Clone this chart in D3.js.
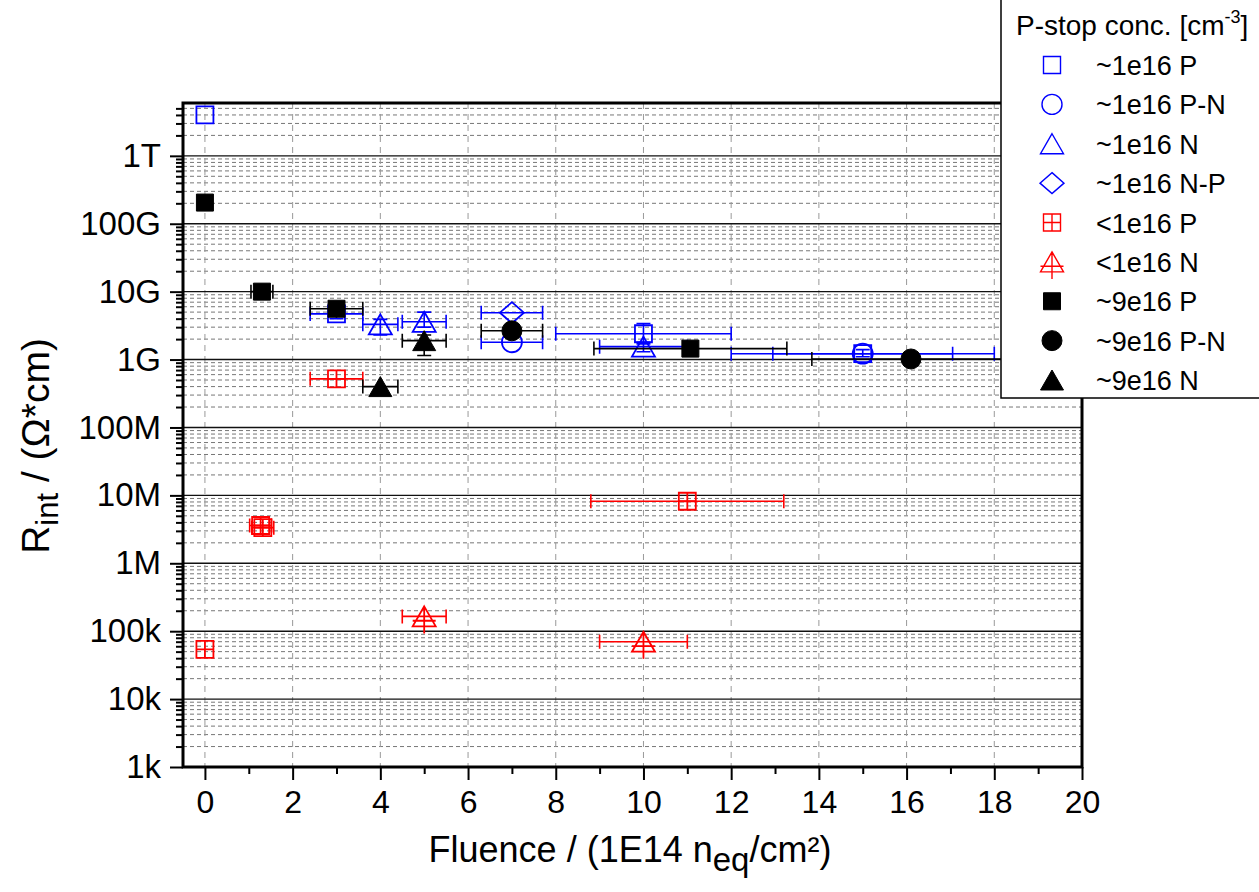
<!DOCTYPE html>
<html>
<head>
<meta charset="utf-8">
<script src="https://cdn.jsdelivr.net/npm/d3@7"></script>
<style>
  body { margin: 0; background: #fff; }
  svg { display: block; }
  text { font-family: Arial, "Liberation Sans", sans-serif; fill: #000; }
</style>
</head>
<body>
<svg id="chart" width="1259" height="892"></svg>
<script>
// legend labels, colours and marker shapes, in drawing order
const seriesNames = ["~1e16 P", "~1e16 P-N", "~1e16 N", "~1e16 N-P", "<1e16 P", "<1e16 N", "~9e16 P", "~9e16 P-N", "~9e16 N"];
const seriesColors = ["#0000ff", "#0000ff", "#0000ff", "#0000ff", "#ff0000", "#ff0000", "#000000", "#000000", "#000000"];
const seriesShapes = ["square", "circle", "triangle", "diamond", "squareCross", "triangleCross", "squareFill", "circleFill", "triangleFill"];

// points: x = fluence, y = Rint, xe = x error, ye = [low, high]
const p1e16_P  = [{x: 0, y: 4.0e12}, {x: 3, y: 4.7e9, xe: 0.6, ye: [4.0e9, 6.5e9]}, {x: 10, y: 2.4e9, xe: 2.0, ye: [1.7e9, 3.4e9]}, {x: 15, y: 1.22e9, xe: 3.0}];
const p1e16_PN = [{x: 7, y: 1.8e9, xe: 0.7}, {x: 15, y: 1.22e9, xe: 2.05, ye: [1.1e9, 1.4e9]}];
const p1e16_N  = [{x: 4, y: 3.3e9, xe: 0.4, ye: [2.3e9, 3.9e9]}, {x: 5, y: 3.6e9, xe: 0.5, ye: [3.0e9, 5.0e9]}, {x: 10, y: 1.55e9, xe: 1.0, ye: [1.3e9, 1.8e9]}];
const p1e16_NP = [{x: 7, y: 4.9e9, xe: 0.7}];
const lt1e16_P = [{x: 0, y: 5.4e4}, {x: 1.27, y: 3.6e6, xe: 0.25}, {x: 1.32, y: 3.35e6, xe: 0.25}, {x: 3, y: 5.2e8, xe: 0.6}, {x: 11, y: 8.2e6, xe: 2.2}];
const lt1e16_N = [{x: 5, y: 1.65e5, xe: 0.5}, {x: 10, y: 7.0e4, xe: 1.0}];
const p9e16_P  = [{x: 0, y: 2.05e11}, {x: 1.3, y: 1.0e10, xe: 0.25}, {x: 3, y: 5.6e9, xe: 0.6}, {x: 11.07, y: 1.45e9, xe: 2.2}];
const p9e16_PN = [{x: 7, y: 2.65e9, xe: 0.7}, {x: 16.1, y: 1.02e9, xe: 2.26}];
const p9e16_N  = [{x: 4, y: 4.0e8, xe: 0.4}, {x: 5, y: 1.9e9, xe: 0.5, ye: [1.15e9, 2.3e9]}];
const seriesData = [p1e16_P, p1e16_PN, p1e16_N, p1e16_NP, lt1e16_P, lt1e16_N, p9e16_P, p9e16_PN, p9e16_N];

// axis ticks
const xTicks = [0, 2, 4, 6, 8, 10, 12, 14, 16, 18, 20];
const yTicks = [1e3, 1e4, 1e5, 1e6, 1e7, 1e8, 1e9, 1e10, 1e11, 1e12];
const yTickLabels = ["1k", "10k", "100k", "1M", "10M", "100M", "1G", "10G", "100G", "1T"];

const svg = d3.select("#chart");

const x = d3.scaleLinear().domain([-0.5, 20]).range([183, 1082]);
const y = d3.scaleLog().domain([1e3, 6e12]).range([767, 103]);

const plotLeft = x.range()[0], plotRight = x.range()[1];
const plotTop = y.range()[1], plotBottom = y.range()[0];

// minor decade values 2..9
const yMinor = [];
yTicks.forEach(d => { for (let k = 2; k <= 9; k++) if (d * k < y.domain()[1]) yMinor.push(d * k); });
const xMinor = d3.range(0, 20, 1).filter(v => v % 2 === 1);

// grid
const grid = svg.append("g");
grid.selectAll(".ym").data(yMinor).enter().append("line")
  .attr("x1", plotLeft).attr("x2", plotRight)
  .attr("y1", d => y(d)).attr("y2", d => y(d))
  .attr("stroke", "#777").attr("stroke-width", 1).attr("stroke-dasharray", "4,3");
grid.selectAll(".xg").data(xTicks.slice(0, -1)).enter().append("line")
  .attr("x1", d => x(d)).attr("x2", d => x(d))
  .attr("y1", plotTop).attr("y2", plotBottom)
  .attr("stroke", "#999").attr("stroke-width", 1).attr("stroke-dasharray", "6,5");
grid.selectAll(".yg").data(yTicks.slice(1)).enter().append("line")
  .attr("x1", plotLeft).attr("x2", plotRight)
  .attr("y1", d => y(d)).attr("y2", d => y(d))
  .attr("stroke", "#111").attr("stroke-width", 1.4);

// axes
const xAxis = svg.append("g").attr("transform", `translate(0,${plotBottom})`)
  .call(d3.axisBottom(x).tickValues(xTicks).tickSize(13).tickPadding(10).tickFormat(d3.format("d")));
svg.append("g").attr("transform", `translate(0,${plotBottom})`)
  .call(d3.axisBottom(x).tickValues(xMinor).tickSize(7).tickFormat(""));
const yAxis = svg.append("g").attr("transform", `translate(${plotLeft},0)`)
  .call(d3.axisLeft(y).tickValues(yTicks).tickSize(13).tickPadding(9).tickFormat((d, i) => yTickLabels[i]));
svg.append("g").attr("transform", `translate(${plotLeft},0)`)
  .call(d3.axisLeft(y).tickValues(yMinor).tickSize(7).tickFormat(""));
svg.selectAll(".domain").remove();
svg.selectAll(".tick line").attr("stroke", "#000").attr("stroke-width", 2);
xAxis.selectAll(".tick text").attr("font-size", 32);
yAxis.selectAll(".tick text").attr("font-size", 33);

// frame
svg.append("rect").attr("x", plotLeft).attr("y", plotTop)
  .attr("width", plotRight - plotLeft).attr("height", plotBottom - plotTop)
  .attr("fill", "none").attr("stroke", "#000").attr("stroke-width", 3);

// marker paths
function markerPath(shape) {
  const p = d3.path();
  if (shape.startsWith("square")) {
    const h = 8.5; p.rect(-h, -h, 2 * h, 2 * h);
    if (shape === "squareCross") { p.moveTo(0, -h); p.lineTo(0, h); p.moveTo(-h, 0); p.lineTo(h, 0); }
  } else if (shape.startsWith("circle")) {
    p.arc(0, 0, 10, 0, 2 * Math.PI); p.closePath();
  } else if (shape.startsWith("triangle")) {
    const w = 11.5, h = 10;
    p.moveTo(0, -h); p.lineTo(w, h); p.lineTo(-w, h); p.closePath();
    if (shape === "triangleCross") { p.moveTo(0, -h); p.lineTo(0, h + 7); p.moveTo(-w, h / 3 + 1); p.lineTo(w, h / 3 + 1); }
  } else if (shape === "diamond") {
    p.moveTo(0, -10.5); p.lineTo(12, 0); p.lineTo(0, 10.5); p.lineTo(-12, 0); p.closePath();
  }
  return p.toString();
}
const filled = s => s.endsWith("Fill");

// error bars then markers, series by series
const plot = svg.append("g");
seriesData.forEach((pts, i) => {
  const c = seriesColors[i];
  const g = plot.append("g");
  const withX = pts.filter(d => d.xe);
  g.selectAll(".xe").data(withX).enter().append("path")
    .attr("d", d => {
      const yy = y(d.y), x0 = x(d.x - d.xe), x1 = x(d.x + d.xe);
      return `M${x0},${yy}H${x1}M${x0},${yy - 7}V${yy + 7}M${x1},${yy - 7}V${yy + 7}`;
    })
    .attr("fill", "none").attr("stroke", c).attr("stroke-width", 1.6);
  const withY = pts.filter(d => d.ye);
  g.selectAll(".ye").data(withY).enter().append("path")
    .attr("d", d => {
      const xx = x(d.x), y0 = y(d.ye[0]), y1 = y(d.ye[1]);
      return `M${xx},${y0}V${y1}M${xx - 7},${y0}H${xx + 7}M${xx - 7},${y1}H${xx + 7}`;
    })
    .attr("fill", "none").attr("stroke", c).attr("stroke-width", 1.6);
  g.selectAll(".m").data(pts).enter().append("path")
    .attr("transform", d => `translate(${x(d.x)},${y(d.y)})`)
    .attr("d", markerPath(seriesShapes[i]))
    .attr("fill", filled(seriesShapes[i]) ? c : "none")
    .attr("stroke", c).attr("stroke-width", filled(seriesShapes[i]) ? 1 : 1.8);
});

// axis titles
const yt = svg.append("text")
  .attr("transform", "translate(49,446) rotate(-90)")
  .attr("text-anchor", "middle").attr("font-size", 39);
yt.append("tspan").text("R");
yt.append("tspan").attr("font-size", 31).attr("dy", 9).text("int");
yt.append("tspan").attr("dy", -9).text(" / (Ω*cm)");

const xt = svg.append("text")
  .attr("x", 630).attr("y", 862)
  .attr("text-anchor", "middle").attr("font-size", 36);
xt.append("tspan").text("Fluence / (1E14 n");
xt.append("tspan").attr("font-size", 33).attr("dy", 9).text("eq");
xt.append("tspan").attr("dy", -9).text("/cm²)");

// legend
const lg = svg.append("g");
lg.append("rect").attr("x", 1001).attr("y", -3).attr("width", 280).attr("height", 401)
  .attr("fill", "#fff").attr("stroke", "#000").attr("stroke-width", 1.5);
const lt = lg.append("text").attr("x", 1016).attr("y", 35).attr("font-size", 28);
lt.append("tspan").text("P-stop conc. [cm");
lt.append("tspan").attr("font-size", 18).attr("dy", -12).text("-3");
lt.append("tspan").attr("dy", 12).text("]");

const legendY = d3.scalePoint().domain(seriesNames).range([65, 380]);
seriesNames.forEach((name, i) => {
  const cy = legendY(name);
  lg.append("path")
    .attr("transform", `translate(1052,${cy})`)
    .attr("d", markerPath(seriesShapes[i]))
    .attr("fill", filled(seriesShapes[i]) ? seriesColors[i] : "none")
    .attr("stroke", seriesColors[i]).attr("stroke-width", filled(seriesShapes[i]) ? 1 : 1.4);
  lg.append("text").attr("x", 1096).attr("y", cy + 10).attr("font-size", 27).text(name);
});
</script>
</body>
</html>
